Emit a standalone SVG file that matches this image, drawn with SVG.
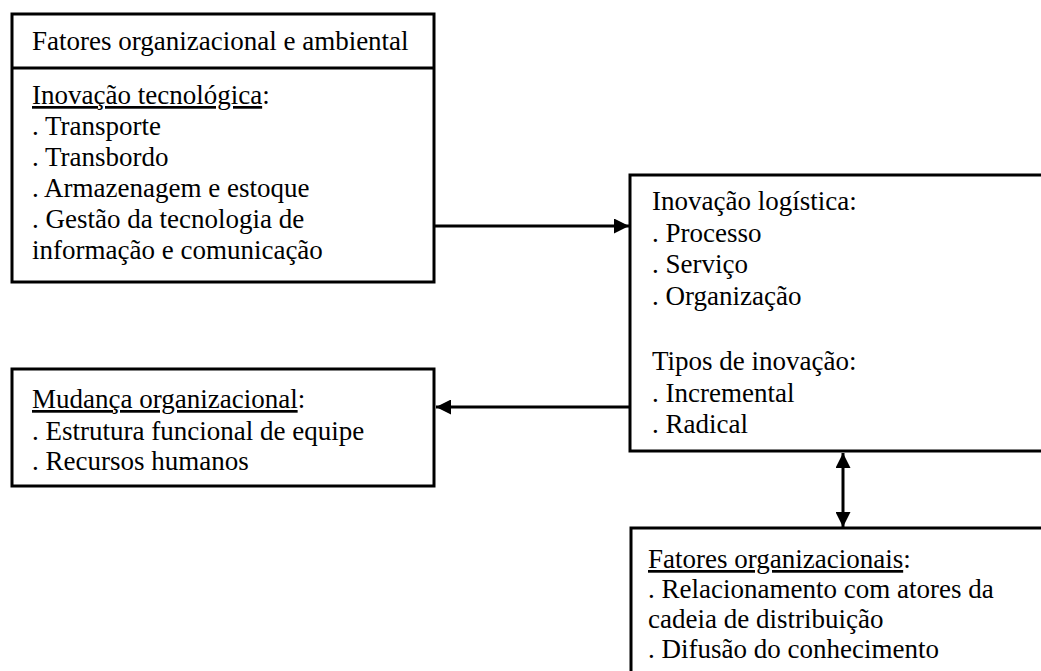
<svg xmlns="http://www.w3.org/2000/svg" width="1041" height="671" viewBox="0 0 1041 671">
  <style>
    .box { fill: #fff; stroke: #000; stroke-width: 3; }
    .t { font-family: Liberation Serif, Times New Roman, serif; font-size: 27px; fill: #000; }
    .u { text-decoration: underline; }
    .conn { stroke: #000; stroke-width: 3; fill: none; }
  </style>
  <defs>
    <marker id="arrow" viewBox="0 0 10 10" refX="10" refY="5" markerWidth="5" markerHeight="5" markerUnits="strokeWidth" orient="auto-start-reverse">
      <path d="M0,0 L10,5 L0,10 Z" fill="#000"/>
    </marker>
  </defs>

  <rect width="1041" height="671" fill="#fff"/>

  <g id="connectors">
    <line class="conn" x1="435" y1="226" x2="629" y2="226" marker-end="url(#arrow)"/>
    <line class="conn" x1="630" y1="407" x2="436" y2="407" marker-end="url(#arrow)"/>
    <line class="conn" x1="843" y1="453" x2="843" y2="527" marker-start="url(#arrow)" marker-end="url(#arrow)"/>
  </g>

  <g id="fatores-organizacional-ambiental" class="t">
    <rect class="box" x="12" y="14" width="422" height="268"/>
    <line x1="12" y1="68" x2="434" y2="68" stroke="#000" stroke-width="3"/>
    <text x="32" y="50">Fatores organizacional e ambiental</text>
    <text x="32" y="104"><tspan class="u">Inovação tecnológica</tspan>:</text>
    <text x="32" y="135">. Transporte</text>
    <text x="32" y="166">. Transbordo</text>
    <text x="32" y="197">. Armazenagem e estoque</text>
    <text x="32" y="228">. Gestão da tecnologia de</text>
    <text x="32" y="259">informação e comunicação</text>
  </g>

  <g id="inovacao-logistica" class="t">
    <rect class="box" x="630" y="175" width="420" height="276"/>
    <text x="652" y="210">Inovação logística:</text>
    <text x="652" y="242">. Processo</text>
    <text x="652" y="273">. Serviço</text>
    <text x="652" y="305">. Organização</text>
    <text x="652" y="370">Tipos de inovação:</text>
    <text x="652" y="402">. Incremental</text>
    <text x="652" y="433">. Radical</text>
  </g>

  <g id="mudanca-organizacional" class="t">
    <rect class="box" x="12" y="369" width="422" height="117"/>
    <text x="32" y="408"><tspan class="u">Mudança organizacional</tspan>:</text>
    <text x="32" y="440">. Estrutura funcional de equipe</text>
    <text x="32" y="470">. Recursos humanos</text>
  </g>

  <g id="fatores-organizacionais" class="t">
    <rect class="box" x="631" y="528" width="420" height="160"/>
    <text x="648" y="568"><tspan class="u">Fatores organizacionais</tspan>:</text>
    <text x="648" y="598">. Relacionamento com atores da</text>
    <text x="648" y="628">cadeia de distribuição</text>
    <text x="648" y="658">. Difusão do conhecimento</text>
  </g>
</svg>
